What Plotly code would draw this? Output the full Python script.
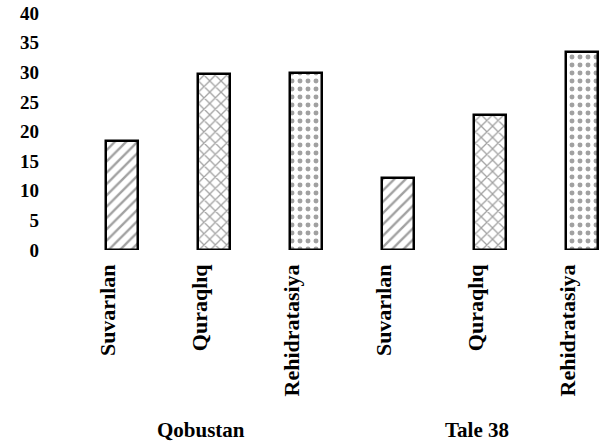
import plotly.graph_objects as go

groups = ["Qobustan", "Tale 38"]
treatments = ["Suvarılan", "Quraqlıq", "Rehidratasiya"]
qobustan = [18.4, 29.7, 29.8]
tale38 = [12.1, 22.8, 33.4]
patterns = ["/", "x", "."]
y_ticks = [0, 5, 10, 15, 20, 25, 30, 35, 40]

values = qobustan + tale38
labels = treatments + treatments
xpos = list(range(len(values)))
shapes = patterns + patterns

font_fam = "Liberation Serif, Times New Roman, serif"

fig = go.Figure()
fig.add_trace(go.Bar(
    x=xpos, y=values, width=0.34,
    marker=dict(
        color="white",
        line=dict(color="black", width=2.5),
        pattern=dict(shape=shapes, fgcolor="#444444", bgcolor="white",
                     size=8, solidity=0.3, fillmode="overlay"),
    ),
    showlegend=False,
))

n = len(treatments)
for gi, g in enumerate(groups):
    fig.add_annotation(
        x=gi * n + (n - 1) / 2, y=0, xref="x", yref="y",
        yshift=-180, xshift=-13,
        text="<b>" + g + "</b>", showarrow=False,
        font=dict(family=font_fam, size=21, color="black"),
    )

fig.update_layout(
    width=607, height=447,
    margin=dict(l=40, r=0, t=13, b=197),
    plot_bgcolor="white", paper_bgcolor="white",
    bargap=0,
    xaxis=dict(
        range=[-0.891, 5.272], automargin=False,
        tickmode="array", tickvals=xpos, ticktext=["<b>" + t + "</b>" for t in labels],
        tickangle=-90, showgrid=False, zeroline=False, showline=False,
        ticks="", ticklabelshift=-14, ticklabelstandoff=9,
        tickfont=dict(family=font_fam, size=22, color="black"),
    ),
    yaxis=dict(
        range=[0, 40], tickmode="array", tickvals=y_ticks, automargin=False,
        ticktext=["<b>%d</b>" % v for v in y_ticks],
        showgrid=False, zeroline=False, showline=False, ticks="",
        tickfont=dict(family=font_fam, size=19, color="black"),
    ),
)

fig.write_html("out.html", config={"displayModeBar": False},
               post_script="document.body.style.margin='0';document.body.style.overflow='hidden';")
